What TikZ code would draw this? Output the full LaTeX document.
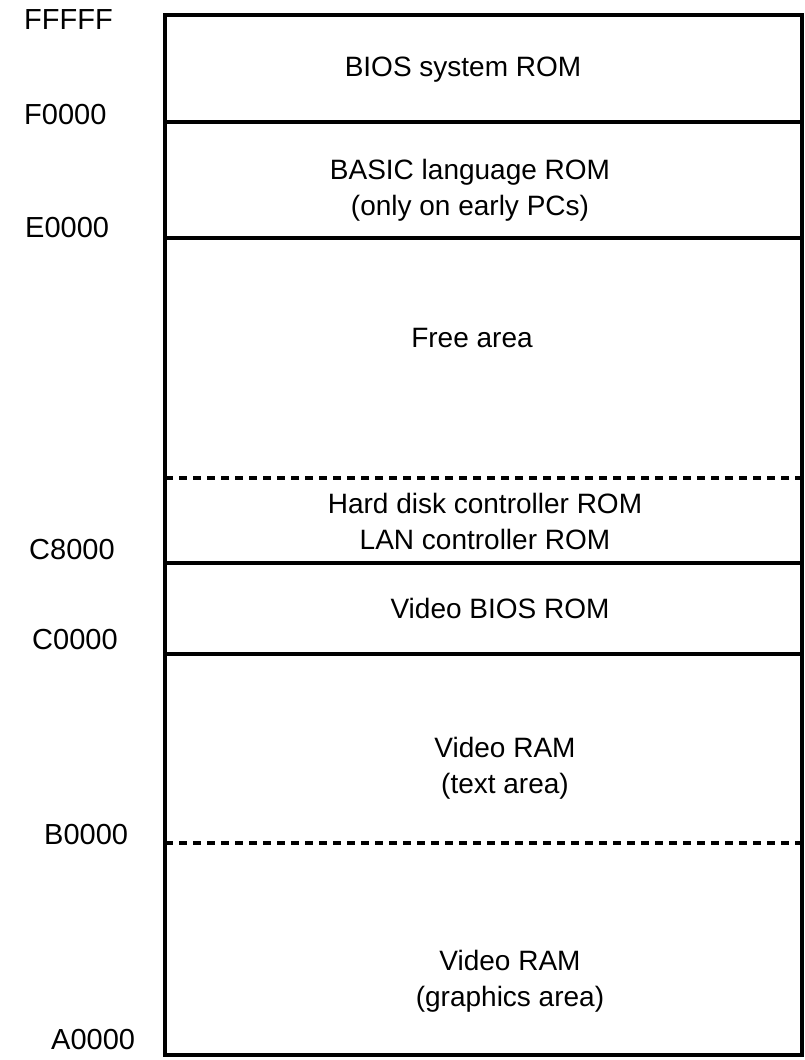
\documentclass[tikz,border=0pt]{standalone}
\usepackage{fontspec}
\setmainfont{Liberation Sans}
\begin{document}
\begin{tikzpicture}[x=1pt,y=-1pt,
  txt/.style={font=\fontsize{28}{36}\selectfont, inner sep=0pt, align=center},
  addr/.style={font=\fontsize{29}{32}\selectfont, inner sep=0pt, anchor=west},
  sep/.style={line width=3.4pt},
  dsep/.style={line width=3.4pt, dash pattern=on 8pt off 6pt}]
\useasboundingbox (0,0) rectangle (805,1060);
% outer frame
\coordinate (tl) at (165,15);
\coordinate (br) at (802,1055);
\draw[sep] (tl) rectangle (br);
% dividers
\coordinate (fL) at (165,122);  \coordinate (fR) at (802,122);
\coordinate (eL) at (165,238);  \coordinate (eR) at (802,238);
\coordinate (dL) at (165,478);  \coordinate (dR) at (802,478);
\coordinate (c8L) at (165,563); \coordinate (c8R) at (802,563);
\coordinate (c0L) at (165,654); \coordinate (c0R) at (802,654);
\coordinate (bL) at (165,843);  \coordinate (bR) at (802,843);
\draw[sep] (fL) -- (fR);
\draw[sep] (eL) -- (eR);
\draw[dsep] (dL) -- (dR);
\draw[sep] (c8L) -- (c8R);
\draw[sep] (c0L) -- (c0R);
\draw[dsep] (bL) -- (bR);
% region texts
\node[txt] (bios) at (463,70) {BIOS system ROM};
\node[txt] (basic) at (470,190) {BASIC language ROM\\(only on early PCs)};
\node[txt] (free) at (472,338) {Free area};
\node[txt] (hd) at (485,521) {Hard disk controller ROM\\LAN controller ROM};
\node[txt] (vbios) at (500,608) {Video BIOS ROM};
\node[txt] (vtext) at (505,768) {Video RAM\\(text area)};
\node[txt] (vgfx) at (510,981) {Video RAM\\(graphics area)};
% address labels
\node[addr] (aF) at (24,20) {FFFFF};
\node[addr] (aF0) at (24,115) {F0000};
\node[addr] (aE) at (25,228) {E0000};
\node[addr] (aC8) at (29,550) {C8000};
\node[addr] (aC0) at (32,640) {C0000};
\node[addr] (aB) at (44,835) {B0000};
\node[addr] (aA) at (51,1040) {A0000};
\end{tikzpicture}
\end{document}
